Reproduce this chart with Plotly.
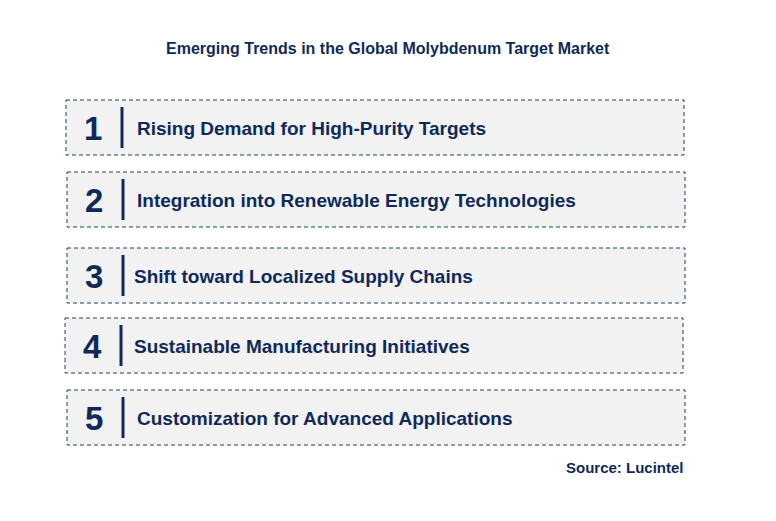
import plotly.graph_objects as go

title = "Emerging Trends in the Global Molybdenum Target Market"
numbers = ["1", "2", "3", "4", "5"]
trends = [
    "Rising Demand for High-Purity Targets",
    "Integration into Renewable Energy Technologies",
    "Shift toward Localized Supply Chains",
    "Sustainable Manufacturing Initiatives",
    "Customization for Advanced Applications",
]
source = "Source: Lucintel"

# box geometry in pixel space; page body adds an 8px offset
off = 8
box_left = [66, 67, 67, 65, 67]
box_top = [100, 172, 248, 318, 390]
text_x = [135, 135, 132, 132, 135]
box_w = 618
box_h = 55

navy = "#0f2a5a"
W, H = 776, 521

fig = go.Figure()
shapes = []
annotations = []
for i, (num, txt) in enumerate(zip(numbers, trends)):
    x0, y0 = box_left[i] - off, box_top[i] - off
    shapes.append(dict(type="rect", x0=x0, x1=x0 + box_w, y0=y0, y1=y0 + box_h,
                       fillcolor="#f2f2f2", line=dict(color="#1f3c6e", width=1, dash="4px,3px"),
                       layer="below"))
    shapes.append(dict(type="line", x0=x0 + 56, x1=x0 + 56, y0=y0 + 7, y1=y0 + box_h - 7,
                       line=dict(color=navy, width=3)))
    annotations.append(dict(x=x0 + 27, y=y0 + box_h / 2 + 1, text="<b>" + num + "</b>",
                            showarrow=False, xanchor="center", yanchor="middle",
                            font=dict(size=33, color=navy, family="Liberation Sans")))
    annotations.append(dict(x=text_x[i] - off, y=y0 + box_h / 2 + 1, text="<b>" + txt + "</b>",
                            showarrow=False, xanchor="left", yanchor="middle",
                            font=dict(size=19, color=navy, family="Liberation Sans")))

annotations.append(dict(x=388 - off, y=48 - off, text="<b>" + title + "</b>", showarrow=False,
                        xanchor="center", yanchor="middle",
                        font=dict(size=16, color=navy, family="Liberation Sans")))
annotations.append(dict(x=686 - off, y=467 - off, text="<b>" + source + "</b>", showarrow=False,
                        xanchor="right", yanchor="middle",
                        font=dict(size=15, color=navy, family="Liberation Sans")))

fig.update_layout(
    width=W, height=H, margin=dict(l=0, r=0, t=0, b=0),
    paper_bgcolor="white", plot_bgcolor="white",
    xaxis=dict(range=[0, W], visible=False, fixedrange=True),
    yaxis=dict(range=[H, 0], visible=False, fixedrange=True),
    shapes=shapes, annotations=annotations, showlegend=False,
)
fig.write_html("out.html", config={"displayModeBar": False})
